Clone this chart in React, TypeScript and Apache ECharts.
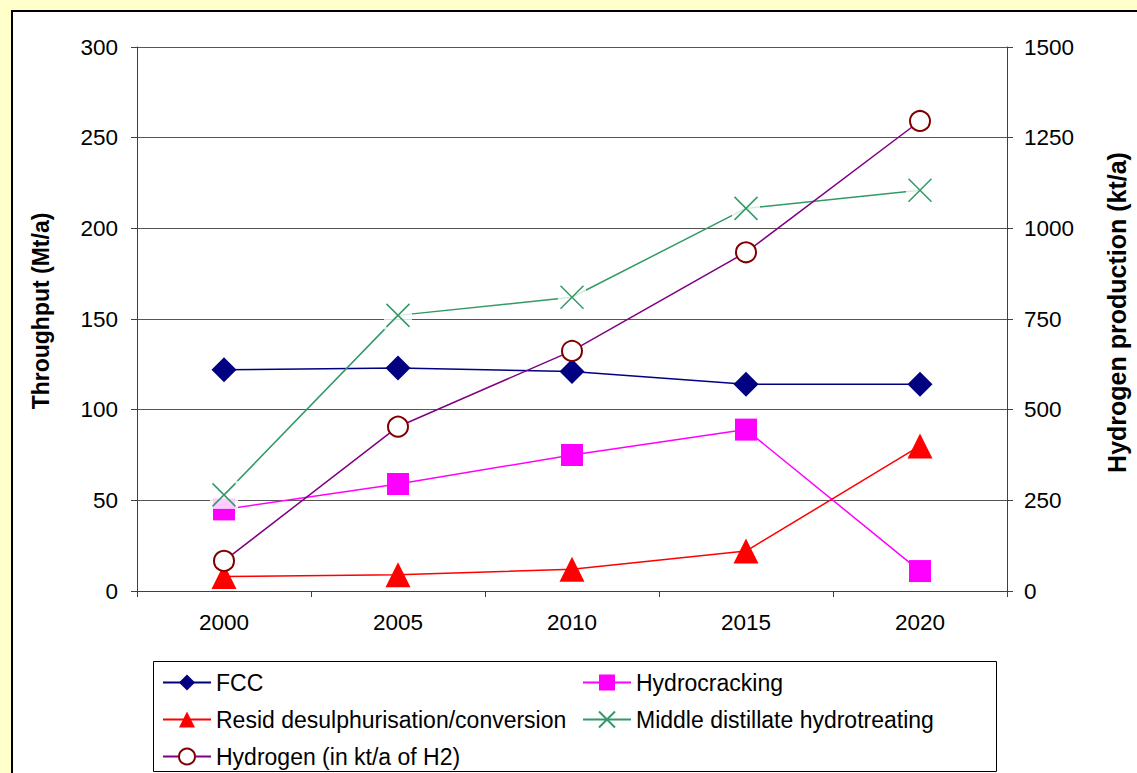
import React, { useEffect, useRef } from 'react';
import * as echarts from 'echarts';

// ---- data ----
const years = ['2000', '2005', '2010', '2015', '2020'];
const fcc = [122, 123, 121, 114, 114];
const hydrocracking = [45, 59, 75, 89, 11];
const resid = [8, 9, 12, 22, 80];
const middleDistillate = [53, 152, 162, 211, 221];
const hydrogen = [83, 453, 662, 934, 1296];

const leftAxis = { min: 0, max: 300, step: 50 };
const rightAxis = { min: 0, max: 1500, step: 250 };

const seriesNames = {
  fcc: 'FCC',
  hc: 'Hydrocracking',
  resid: 'Resid desulphurisation/conversion',
  mdh: 'Middle distillate hydrotreating',
  h2: 'Hydrogen (in kt/a of H2)',
};

const FONT = '"Liberation Sans", Arial, Helvetica, sans-serif';
const X_SYMBOL = 'path://M0,0L10,10M10,0L0,10';

export default function App() {
  const ref = useRef<HTMLDivElement>(null);

  useEffect(() => {
    if (!ref.current) return;
    const chart = echarts.init(ref.current, undefined, { renderer: 'svg' });
    const axisColor = '#404040';
    const legendCommon = {
      orient: 'vertical' as const,
      top: 671,
      padding: 0,
      itemWidth: 48,
      itemHeight: 20,
      itemGap: 14,
      selectedMode: false,
      textStyle: { fontSize: 23, color: '#000', fontFamily: FONT, lineHeight: 20 },
    };
    chart.setOption({
      animation: false,
      backgroundColor: '#FFFFCC',
      textStyle: { fontFamily: FONT },
      graphic: [
        {
          type: 'rect',
          z: -10,
          silent: true,
          shape: { x: 12, y: 11, width: 1140, height: 780 },
          style: { fill: '#FFFFFF', stroke: '#000000', lineWidth: 2 },
        },
        {
          type: 'rect',
          z: -5,
          silent: true,
          shape: { x: 153.5, y: 661.5, width: 843, height: 110 },
          style: { fill: 'none', stroke: '#000000', lineWidth: 1 },
        },
      ],
      grid: { left: 137, top: 47, right: 121, bottom: 182, containLabel: false },
      legend: [
        {
          ...legendCommon,
          left: 162,
          data: [seriesNames.fcc, seriesNames.resid, seriesNames.h2],
        },
        {
          ...legendCommon,
          left: 582,
          data: [seriesNames.hc, seriesNames.mdh],
        },
      ],
      xAxis: {
        type: 'category',
        data: years,
        boundaryGap: true,
        axisLine: { lineStyle: { color: axisColor, width: 1 } },
        axisTick: { show: true, length: 6, lineStyle: { color: axisColor } },
        axisLabel: { fontSize: 22.5, color: '#000', margin: 20, fontFamily: FONT },
        splitLine: { show: false },
      },
      yAxis: [
        {
          type: 'value',
          min: leftAxis.min,
          max: leftAxis.max,
          interval: leftAxis.step,
          position: 'left',
          name: 'Throughput (Mt/a)',
          nameLocation: 'middle',
          nameRotate: 90,
          nameGap: 85,
          nameTextStyle: {
            fontSize: 23,
            fontWeight: 'bold',
            color: '#000',
            fontFamily: FONT,
            padding: [0, 0, 0, 16],
          },
          axisLine: { show: true, lineStyle: { color: axisColor, width: 1 } },
          axisTick: { show: true, length: 6, lineStyle: { color: axisColor } },
          axisLabel: { fontSize: 22.5, color: '#000', margin: 19, fontFamily: FONT },
          splitLine: { show: true, lineStyle: { color: '#555555', width: 1 } },
        },
        {
          type: 'value',
          min: rightAxis.min,
          max: rightAxis.max,
          interval: rightAxis.step,
          position: 'right',
          name: 'Hydrogen production (kt/a)',
          nameLocation: 'middle',
          nameRotate: 90,
          nameGap: 97,
          nameTextStyle: {
            fontSize: 25,
            fontWeight: 'bold',
            color: '#000',
            fontFamily: FONT,
            padding: [0, 0, 0, 13],
          },
          axisLine: { show: true, lineStyle: { color: axisColor, width: 1 } },
          axisTick: { show: true, length: 6, lineStyle: { color: axisColor } },
          axisLabel: {
            fontSize: 22.5,
            color: '#000',
            margin: 17,
            fontFamily: FONT,
            formatter: (v: number) => String(v),
          },
          splitLine: { show: false },
        },
      ],
      series: [
        {
          name: seriesNames.fcc,
          type: 'line',
          z: 2,
          yAxisIndex: 0,
          data: fcc,
          symbol: 'diamond',
          symbolSize: 25,
          itemStyle: { color: '#000080' },
          lineStyle: { color: '#000080', width: 1.5 },
        },
        {
          name: seriesNames.hc,
          type: 'line',
          z: 2,
          yAxisIndex: 0,
          data: hydrocracking,
          symbol: 'rect',
          symbolSize: 22,
          itemStyle: { color: '#FF00FF' },
          lineStyle: { color: '#FF00FF', width: 1.5 },
        },
        {
          name: seriesNames.resid,
          type: 'line',
          z: 2,
          yAxisIndex: 0,
          data: resid,
          symbol: 'triangle',
          symbolSize: 25,
          itemStyle: { color: '#FF0000' },
          lineStyle: { color: '#FF0000', width: 1.5 },
        },
        {
          name: 'mdh-marker-background',
          type: 'scatter',
          z: 2,
          yAxisIndex: 0,
          data: middleDistillate,
          symbol: 'rect',
          symbolSize: 28,
          silent: true,
          itemStyle: { color: '#FFFFFF' },
        },
        {
          name: seriesNames.mdh,
          type: 'line',
          z: 2,
          yAxisIndex: 0,
          data: middleDistillate,
          symbol: X_SYMBOL,
          symbolSize: 23,
          itemStyle: { color: 'rgba(0,0,0,0)', borderColor: '#339966', borderWidth: 1.5 },
          lineStyle: { color: '#339966', width: 1.5 },
        },
        {
          name: seriesNames.h2,
          type: 'line',
          z: 2,
          yAxisIndex: 1,
          data: hydrogen,
          symbol: 'circle',
          symbolSize: 20,
          itemStyle: { color: '#FFFFFF', borderColor: '#800000', borderWidth: 2 },
          lineStyle: { color: '#800080', width: 1.5 },
        },
      ],
    });
    return () => chart.dispose();
  }, []);

  return (
    <div
      ref={ref}
      style={{ position: 'fixed', left: 0, top: 0, width: 1137, height: 773 }}
    />
  );
}
